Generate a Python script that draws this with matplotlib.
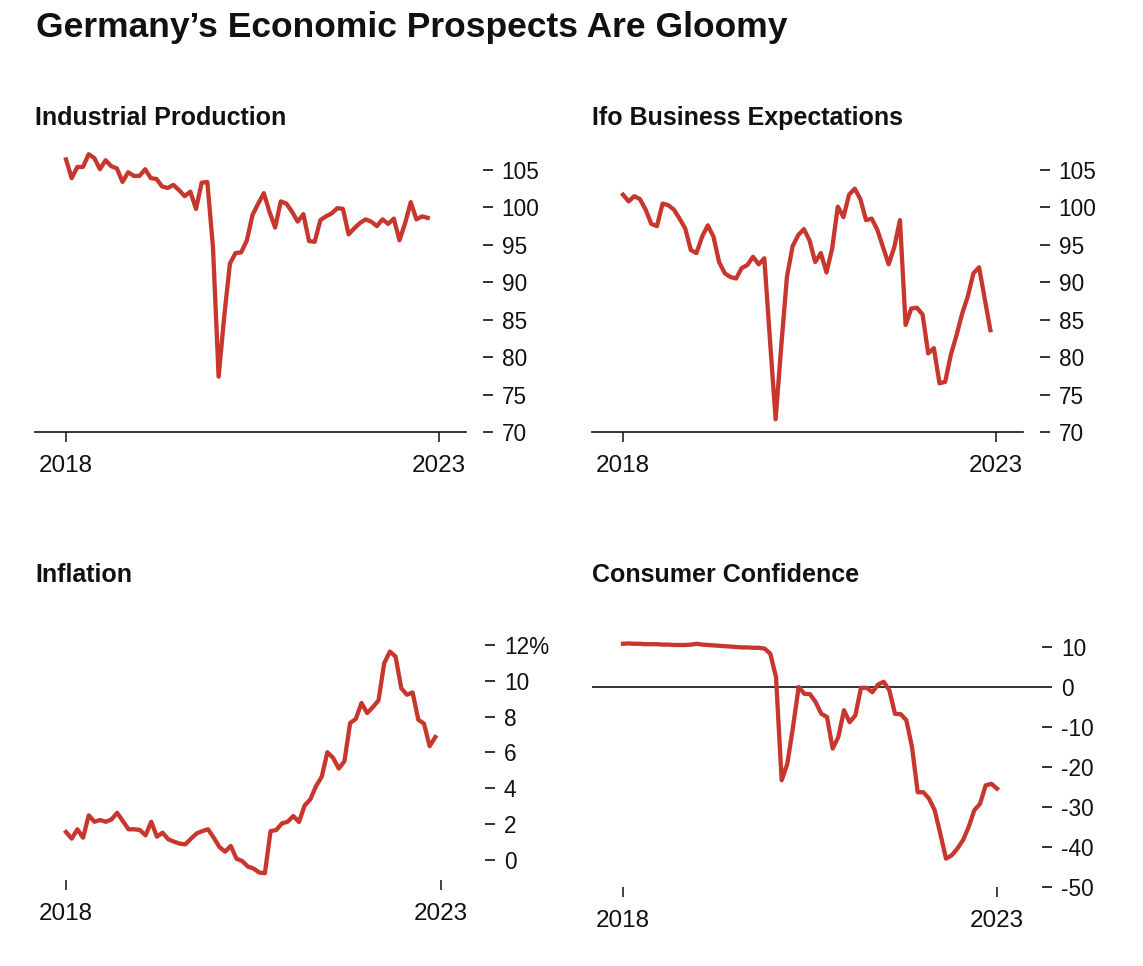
import matplotlib
matplotlib.use("Agg")
import matplotlib.pyplot as plt

plt.rcParams['font.family'] = ['Liberation Sans', 'DejaVu Sans']

W, H = 1143, 966

title = "Germany\u2019s Economic Prospects Are Gloomy"
panel_titles = ["Industrial Production", "Ifo Business Expectations", "Inflation", "Consumer Confidence"]
x_tick_pos = [0, 66]           # months since Jan 2018
x_tick_labels = ["2018", "2023"]

industrial_production = [106.4, 103.9, 105.4, 105.4, 107.1, 106.6, 105.1, 106.3, 105.5, 105.2,
                         103.4, 104.7, 104.2, 104.2, 105.1, 103.9, 103.8, 102.8, 102.6, 103.0,
                         102.3, 101.5, 102.1, 99.8, 103.3, 103.4, 94.7, 77.4, 85.5, 92.5,
                         93.9, 94.0, 95.6, 99.0, 100.5, 101.9, 99.4, 97.3, 100.8, 100.5,
                         99.4, 98.1, 99.1, 95.5, 95.4, 98.3, 98.8, 99.2, 99.9, 99.8,
                         96.4, 97.2, 97.9, 98.4, 98.1, 97.5, 98.4, 97.8, 98.5, 95.6,
                         97.9, 100.7, 98.4, 98.8, 98.6]

ifo_expectations = [101.7, 100.8, 101.5, 101.1, 99.7, 97.8, 97.5, 100.5, 100.3, 99.7,
                    98.5, 97.2, 94.3, 93.9, 96.1, 97.6, 96.1, 92.7, 91.2, 90.7,
                    90.5, 91.9, 92.3, 93.4, 92.4, 93.2, 82.3, 71.7, 81.5, 90.7,
                    94.8, 96.3, 97.1, 95.6, 92.7, 93.9, 91.3, 94.5, 100.1, 98.7,
                    101.7, 102.5, 101.1, 98.3, 98.5, 97.0, 94.7, 92.4, 94.7, 98.3,
                    84.3, 86.5, 86.6, 85.7, 80.5, 81.2, 76.5, 76.7, 80.3, 82.9,
                    85.8, 88.1, 91.2, 92.0, 87.8, 83.6]

inflation = [1.56, 1.19, 1.71, 1.24, 2.49, 2.13, 2.23, 2.13, 2.26, 2.63,
             2.17, 1.71, 1.71, 1.67, 1.37, 2.13, 1.30, 1.52, 1.15, 1.02,
             0.91, 0.87, 1.19, 1.48, 1.61, 1.71, 1.24, 0.72, 0.46, 0.78,
             0.07, -0.06, -0.37, -0.48, -0.70, -0.74, 1.61, 1.67, 2.04, 2.13,
             2.45, 2.12, 3.04, 3.38, 4.12, 4.64, 6.01, 5.70, 5.10, 5.51,
             7.64, 7.87, 8.76, 8.20, 8.53, 8.91, 10.98, 11.63, 11.35, 9.59,
             9.22, 9.35, 7.83, 7.61, 6.35, 6.86]

consumer_confidence = [10.8, 10.9, 10.8, 10.8, 10.7, 10.7, 10.7, 10.6, 10.6, 10.5,
                       10.5, 10.5, 10.6, 10.8, 10.6, 10.5, 10.4, 10.3, 10.2, 10.1,
                       10.0, 9.9, 9.9, 9.8, 9.8, 9.6, 8.3, 2.5, -23.3, -19.2,
                       -10.0, 0.0, -1.7, -1.8, -3.8, -6.7, -7.5, -15.4, -12.5, -5.8,
                       -8.8, -7.1, -0.2, -0.2, -1.3, 0.6, 1.3, -0.8, -6.7, -6.8,
                       -8.3, -15.0, -26.3, -26.3, -27.9, -30.8, -36.7, -42.9, -42.1, -40.4,
                       -38.3, -35.0, -30.8, -29.2, -24.6, -24.2, -25.4]

ip_ticks = [70, 75, 80, 85, 90, 95, 100, 105]
ifo_ticks = [70, 75, 80, 85, 90, 95, 100, 105]
infl_ticks = [0, 2, 4, 6, 8, 10, 12]
infl_labels = ["0", "2", "4", "6", "8", "10", "12%"]
cc_ticks = [-50, -40, -30, -20, -10, 0, 10]
cc_labels = ["-50", "-40", "-30", "-20", "-10", "0", "10"]

RED = "#c8372d"
TXT = "#111111"

fig = plt.figure(figsize=(W / 100, H / 100), dpi=100)


def make_axes(left, right, top, bottom):
    return fig.add_axes([left / W, 1 - bottom / H, (right - left) / W, (bottom - top) / H])


def style(ax, yt, yl):
    for s in ax.spines.values():
        s.set_visible(False)
    ax.yaxis.tick_right()
    ax.set_yticks(yt)
    ax.set_yticklabels(yl)
    ax.set_xticks(x_tick_pos)
    ax.set_xticklabels(x_tick_labels)
    ax.tick_params(axis='y', length=7.0, width=1.2, pad=6.5, labelsize=16.3,
                   colors=TXT, direction='out')
    ax.tick_params(axis='x', length=7.2, width=1.1, pad=9.5, labelsize=17.5,
                   colors=TXT, direction='out')
    ax.patch.set_visible(False)


# Panel 1 : Industrial production
ax1 = make_axes(35, 483, 147.5, 432)
ax1.plot(range(len(industrial_production)), industrial_production, color=RED, lw=3.1,
         solid_joinstyle='round', clip_on=False)
ax1.set_xlim(-5.49, 73.78)
ax1.set_ylim(70, 108)
ax1.axhline(70, xmin=0, xmax=0.962, color=TXT, lw=1.2, clip_on=False)
style(ax1, ip_ticks, [str(v) for v in ip_ticks])

# Panel 2 : Ifo
ax2 = make_axes(592, 1040, 147.5, 432)
ax2.plot(range(len(ifo_expectations)), ifo_expectations, color=RED, lw=3.1,
         solid_joinstyle='round', clip_on=False)
ax2.set_xlim(-5.49, 73.78)
ax2.set_ylim(70, 108)
ax2.axhline(70, xmin=0, xmax=0.962, color=TXT, lw=1.2, clip_on=False)
style(ax2, ifo_ticks, [str(v) for v in ifo_ticks])

# Panel 3 : Inflation
ax3 = make_axes(35, 485, 636, 880)
ax3.plot(range(len(inflation)), inflation, color=RED, lw=3.1,
         solid_joinstyle='round', clip_on=False)
ax3.set_xlim(-5.46, 73.74)
ax3.set_ylim(-1.12, 12.5)
style(ax3, infl_ticks, infl_labels)

# Panel 4 : Consumer confidence
ax4 = make_axes(592, 1042, 639, 887)
ax4.axhline(0, color=TXT, lw=1.2)
ax4.plot(range(len(consumer_confidence)), consumer_confidence, color=RED, lw=3.1,
         solid_joinstyle='round', clip_on=False)
ax4.set_xlim(-5.47, 73.94)
ax4.set_ylim(-50, 12)
style(ax4, cc_ticks, cc_labels)

# Titles
fig.text(36 / W, 1 - 37 / H, title, fontsize=25.5, fontweight='bold', color=TXT,
         ha='left', va='baseline')
title_pos = [(35, 125), (592, 125), (35, 582), (592, 582)]
for (tx, ty), t in zip(title_pos, panel_titles):
    fig.text(tx / W, 1 - ty / H, t, fontsize=18, fontweight='bold', color=TXT,
             ha='left', va='baseline')

fig.savefig("out.png", dpi=100, facecolor='white')
